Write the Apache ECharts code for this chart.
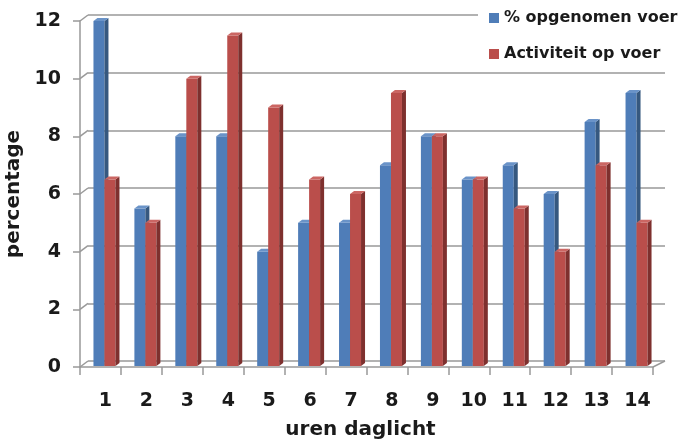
<!DOCTYPE html>
<html>
<head>
<meta charset="utf-8">
<script src="https://cdn.jsdelivr.net/npm/echarts@6/dist/echarts.min.js"></script>
<style>
  html, body { margin: 0; padding: 0; background: #fff; }
  #chart { width: 691px; height: 439px; }
</style>
</head>
<body>
<div id="chart"></div>
<script>
const hours = ['1', '2', '3', '4', '5', '6', '7', '8', '9', '10', '11', '12', '13', '14']
const opgenomen = [12, 5.5, 8, 8, 4, 5, 5, 7, 8, 6.5, 7, 6, 8.5, 9.5]
const activiteit = [6.5, 5, 10, 11.5, 9, 6.5, 6, 9.5, 8, 6.5, 5.5, 4, 7, 5]
const yTicks = [0, 2, 4, 6, 8, 10, 12]

const FONT = 'DejaVu Sans'
const GRID_LINE = '#999999'

// pseudo-3D kolom: voorvlak + zijvlak + bovenvlak
function columnItem(offset, front, side, top) {
  return function (params, api) {
    const i = api.value(0)
    const v = api.value(1)
    const base = api.coord([i, 0])
    const p = api.coord([i, v])
    const w = 11, dx = 4, dy = 3
    const x = p[0] + offset
    const y0 = base[1] - 1
    return {
      type: 'group',
      children: [
        {
          type: 'rect',
          shape: { x: x, y: p[1], width: w, height: y0 - p[1] },
          style: { fill: front },
        },
        {
          type: 'polygon',
          shape: { points: [[x + w, p[1]], [x + w + dx, p[1] - dy], [x + w + dx, y0 - dy], [x + w, y0]] },
          style: { fill: side },
        },
        {
          type: 'polygon',
          shape: { points: [[x, p[1]], [x + dx, p[1] - dy], [x + w + dx, p[1] - dy], [x + w, p[1]]] },
          style: { fill: top },
        },
      ],
    }
  }
}

// schuine verbindingslijntjes tussen vooras en achterwand
function wallItem(params, api) {
  const cs = params.coordSys
  const y = api.coord([0, api.value(0)])[1]
  const children = [{
    type: 'line',
    shape: { x1: cs.x, y1: y, x2: cs.x + 8, y2: y - 6 },
    style: { stroke: GRID_LINE, lineWidth: 1.5 },
  }]
  if (api.value(0) === 0) {
    children.push({
      type: 'line',
      shape: { x1: cs.x + cs.width, y1: y, x2: cs.x + cs.width + 12, y2: y - 6 },
      style: { stroke: GRID_LINE, lineWidth: 1.5 },
    })
  }
  return { type: 'group', children: children }
}

const chart = echarts.init(document.getElementById('chart'), null, { renderer: 'canvas' })

const option = {
  animation: false,
  backgroundColor: '#fff',
  legend: {
    orient: 'vertical',
    left: 478, top: 0,
    padding: [9, 5, 6, 11],
    backgroundColor: '#fff',
    itemWidth: 10, itemHeight: 10, itemGap: 18,
    icon: 'rect',
    data: ['% opgenomen voer', 'Activiteit op voer'],
    textStyle: { fontFamily: FONT, fontSize: 16, fontWeight: 'bold', color: '#1a1a1a', lineHeight: 18 },
  },
  grid: [
    { left: 80, right: 38, top: 21, bottom: 72, containLabel: false, outerBoundsMode: 'none' },   // voorvlak
    { left: 88, right: 26, top: 15, bottom: 78, containLabel: false, outerBoundsMode: 'none' },   // achterwand
  ],
  xAxis: [
    {
      type: 'category', data: hours, gridIndex: 0,
      axisLine: { lineStyle: { color: GRID_LINE, width: 1.5 } },
      axisTick: { show: true, length: 8, lineStyle: { color: GRID_LINE, width: 1.5 } },
      axisLabel: {
        interval: 0, margin: 25, padding: [0, 0, 0, 10],
        fontFamily: FONT, fontSize: 19, fontWeight: 'bold', color: '#1a1a1a',
      },
      name: 'uren daglicht', nameLocation: 'middle', nameGap: 53,
      nameTextStyle: { fontFamily: FONT, fontSize: 20, fontWeight: 'bold', color: '#1a1a1a', padding: [0, 12, 0, 0] },
    },
    {
      type: 'category', data: hours, gridIndex: 1, show: false,
    },
  ],
  yAxis: [
    {
      type: 'value', gridIndex: 0, min: 0, max: 12, interval: 2,
      axisLine: { show: true, lineStyle: { color: GRID_LINE, width: 1.5 } },
      axisTick: { show: true, length: 7, lineStyle: { color: GRID_LINE, width: 1.5 } },
      splitLine: { show: false },
      axisLabel: {
        margin: 19, padding: [9, 0, 0, 0],
        fontFamily: FONT, fontSize: 19, fontWeight: 'bold', color: '#1a1a1a',
      },
      name: 'percentage', nameLocation: 'middle', nameGap: 40,
      nameTextStyle: { fontFamily: FONT, fontSize: 20, fontWeight: 'bold', color: '#1a1a1a' },
    },
    {
      type: 'value', gridIndex: 1, min: 0, max: 12, interval: 2,
      axisLine: { show: false }, axisTick: { show: false }, axisLabel: { show: false },
      splitLine: { show: true, lineStyle: { color: GRID_LINE, width: 1.5 } },
    },
  ],
  series: [
    {
      type: 'custom', name: 'wand',
      xAxisIndex: 0, yAxisIndex: 0,
      data: yTicks.map(v => [v]),
      renderItem: wallItem,
      silent: true, z: 1,
    },
    {
      type: 'custom', name: '% opgenomen voer',
      xAxisIndex: 0, yAxisIndex: 0,
      itemStyle: { color: '#4F7DB8' },
      data: opgenomen.map((v, i) => [i, v]),
      renderItem: columnItem(-7, '#4F7DB8', '#36587F', '#6A93C8'),
      encode: { x: 0, y: 1 }, z: 3,
    },
    {
      type: 'custom', name: 'Activiteit op voer',
      xAxisIndex: 0, yAxisIndex: 0,
      itemStyle: { color: '#BA4E4B' },
      data: activiteit.map((v, i) => [i, v]),
      renderItem: columnItem(4, '#BA4E4B', '#7E302E', '#CB6663'),
      encode: { x: 0, y: 1 }, z: 4,
    },
  ],
}

chart.setOption(option)
</script>
</body>
</html>
